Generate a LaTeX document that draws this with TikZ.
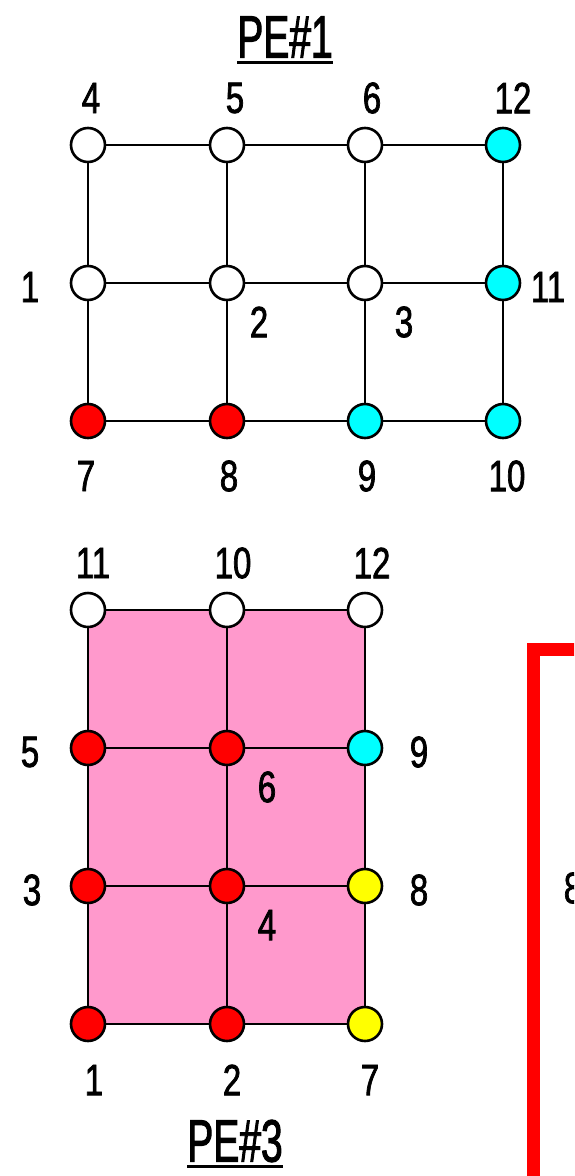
\documentclass[tikz,border=0pt]{standalone}
\usepackage{fontspec}
\setmainfont[FakeStretch=0.75, FakeBold=1.6]{Liberation Sans}
\newfontfamily\titlefont[FakeStretch=0.65, FakeBold=1.6]{Liberation Sans}
\usetikzlibrary{backgrounds}
\definecolor{pecyan}{RGB}{0,255,255}
\definecolor{pered}{RGB}{255,0,0}
\definecolor{peyellow}{RGB}{255,255,0}
\definecolor{pepink}{RGB}{255,153,204}

\begin{document}
\begin{tikzpicture}[
            x=1pt, y=-1pt,
            vtx/.style={circle, draw, line width=2.6pt, minimum size=34pt, inner sep=0pt},
            edge/.style={line width=2.8pt},
            num/.style={font=\fontsize{44}{44}\selectfont, inner sep=0pt},
            petitle/.style={font=\titlefont\fontsize{60}{60}\selectfont, inner sep=0pt},
            uline/.style={line width=3.5pt}
        ]
        \useasboundingbox (0,0) rectangle (574,1176);
        \clip (0,0) rectangle (574,1176);

        % PE#1 节点
        \foreach \n/\x/\y/\c in {4/88/145/white, 5/227/145/white, 6/365/145/white, 12/503/145/pecyan,
                1/88/283/white, 2/227/283/white, 3/365/283/white, 11/503/283/pecyan,
                7/88/421/pered, 8/227/421/pered, 9/365/421/pecyan, 10/503/421/pecyan} {
                \node[vtx, fill=\c] (a\n) at (\x,\y) {};
            }
        \foreach \p/\q in {4/5, 5/6, 6/12, 1/2, 2/3, 3/11, 7/8, 8/9, 9/10,
                4/1, 1/7, 5/2, 2/8, 6/3, 3/9, 12/11, 11/10} {
                \draw[edge] (a\p) -- (a\q);
            }

        % PE#1 编号
        \foreach \n/\x/\y in {4/91/98, 5/235/98, 6/372/98, 12/513/98,
                1/30/287, 11/548/287, 2/259/322, 3/404/322,
                7/86/476, 8/229/476, 9/367/476, 10/507/476} {
                \node[num] (la\n) at (\x,\y) {\n};
            }

        % PE#1 标题
        \node[petitle] (title1) at (285,37) {PE\#1};
        \draw[uline] ([yshift=-5pt]title1.base west) -- ([yshift=-5pt]title1.base east);

        % PE#3 节点
        \foreach \n/\x/\y/\c in {11/88/610/white, 10/227/610/white, 12/365/610/white,
                5/88/748/pered, 6/227/748/pered, 9/365/748/pecyan,
                3/88/886/pered, 4/227/886/pered, 8/365/886/peyellow,
                1/88/1024/pered, 2/227/1024/pered, 7/365/1024/peyellow} {
                \node[vtx, fill=\c] (b\n) at (\x,\y) {};
            }
        \begin{scope}[on background layer]
            \fill[pepink] (b11.center) rectangle (b7.center);
        \end{scope}
        \foreach \p/\q in {11/10, 10/12, 5/6, 6/9, 3/4, 4/8, 1/2, 2/7,
                11/5, 5/3, 3/1, 10/6, 6/4, 4/2, 12/9, 9/8, 8/7} {
                \draw[edge] (b\p) -- (b\q);
            }

        % PE#3 编号
        \foreach \n/\x/\y in {11/93/563, 10/233/563, 12/372/563,
                5/30/752, 9/419/752, 6/267/787,
                3/32/890, 8/419/890, 4/267/925,
                1/94/1080, 2/232/1080, 7/370/1080} {
                \node[num] (lb\n) at (\x,\y) {\n};
            }

        % PE#3 标题
        \node[petitle] (title3) at (235,1141) {PE\#3};
        \draw[uline] ([yshift=-5pt]title3.base west) -- ([yshift=-5pt]title3.base east);

        % 右侧红框
        \coordinate (boxbl) at (533.5,1300);
        \coordinate (boxtr) at (700,649);
        \draw[pered, line width=13pt] (boxbl) |- (boxtr);
        \node[num] (lc8) at (573,888) {8};
    \end{tikzpicture}
\end{document}
